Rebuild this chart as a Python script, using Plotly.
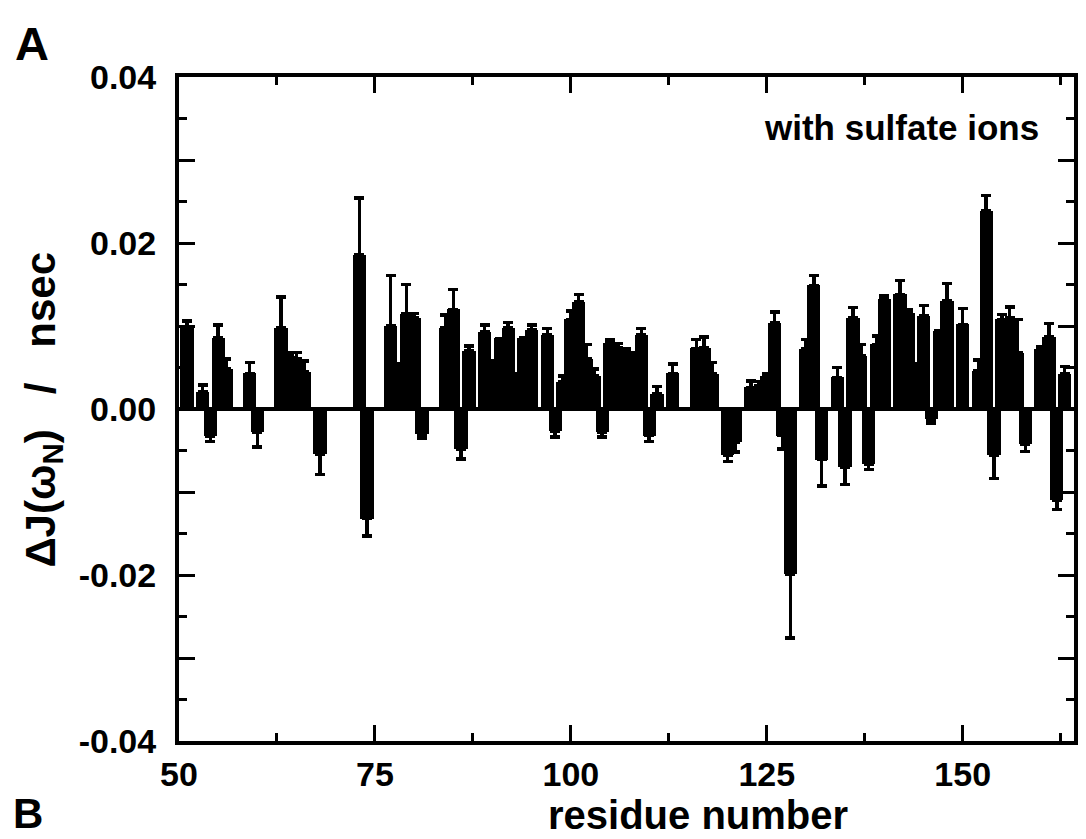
import plotly.graph_objects as go

# Residues with a measurable change, the change itself and its uncertainty (nsec)
residues = [51, 53, 54, 55, 56, 59, 60, 63, 64, 65, 66, 68, 73, 74, 77, 78, 79, 80, 81,
            84, 85, 86, 87, 89, 90, 91, 92, 93, 94, 95, 97, 98, 99, 100, 101, 102, 103,
            104, 105, 106, 107, 108, 109, 110, 111, 113, 116, 117, 118, 120, 121, 123,
            124, 125, 126, 127, 128, 130, 131, 132, 134, 135, 136, 137, 138, 139, 140,
            142, 143, 144, 145, 146, 147, 148, 150, 152, 153, 154, 155, 156, 157, 158,
            160, 161, 162, 163]
delta_j = [0.0097, 0.0021, -0.0033, 0.0086, 0.0048, 0.0043, -0.0028, 0.0098, 0.0064,
           0.0060, 0.0045, -0.0054, 0.0186, -0.0132, 0.0100, 0.0054, 0.0115, 0.0110,
           -0.0030, 0.0098, 0.0120, -0.0048, 0.0070, 0.0093, 0.0058, 0.0085, 0.0098,
           0.0042, 0.0086, 0.0095, 0.0089, -0.0027, 0.0033, 0.0108, 0.0129, 0.0060,
           0.0040, -0.0028, 0.0080, 0.0074, 0.0070, 0.0068, 0.0089, -0.0032, 0.0018,
           0.0043, 0.0073, 0.0074, 0.0042, -0.0056, -0.0040, 0.0026, 0.0028, 0.0040,
           0.0104, -0.0032, -0.0199, 0.0072, 0.0149, -0.0061, 0.0038, -0.0070, 0.0110,
           0.0064, -0.0066, 0.0078, 0.0133, 0.0138, 0.0116, 0.0055, 0.0112, -0.0012,
           0.0094, 0.0130, 0.0102, 0.0046, 0.0239, -0.0056, 0.0108, 0.0110, 0.0068,
           -0.0042, 0.0072, 0.0087, -0.0110, 0.0042]
delta_j_err = [0.0009, 0.0008, 0.0006, 0.0015, 0.0012, 0.0013, 0.0018, 0.0037, 0.0004,
               0.0008, 0.0013, 0.0025, 0.0068, 0.0021, 0.0061, 0.0, 0.0035, 0.0005,
               0.0005, 0.0015, 0.0024, 0.0012, 0.0006, 0.0008, 0.0, 0.0, 0.0006,
               0.0, 0.0, 0.0006, 0.0008, 0.0007, 0.0007, 0.0010, 0.0009, 0.0018,
               0.0008, 0.0006, 0.0003, 0.0005, 0.0002, 0.0, 0.0008, 0.0007, 0.0009,
               0.0011, 0.0011, 0.0013, 0.0014, 0.0007, 0.0012, 0.0008, 0.0005, 0.0003,
               0.0013, 0.0016, 0.0077, 0.0012, 0.0012, 0.0032, 0.0012, 0.0021, 0.0012,
               0.0014, 0.0007, 0.0010, 0.0004, 0.0017, 0.0004, 0.0, 0.0013, 0.0005,
               0.0, 0.0021, 0.0019, 0.0013, 0.0018, 0.0028, 0.0006, 0.0013, 0.0040,
               0.0009, 0.0003, 0.0016, 0.0011, 0.0009]

x_ticks = [50, 75, 100, 125, 150]
x_minor_ticks = [62.5, 87.5, 112.5, 137.5, 162.5]
y_ticks = [-0.04, -0.03, -0.02, -0.01, 0.0, 0.01, 0.02, 0.03, 0.04]
y_tick_text = ["-0.04", "", "-0.02", "", "0.00", "", "0.02", "", "0.04"]
y_minor_ticks = [-0.035, -0.025, -0.015, -0.005, 0.005, 0.015, 0.025, 0.035]

# Error bars point away from zero
err_up = [e if v >= 0 else 0.0 for v, e in zip(delta_j, delta_j_err)]
err_down = [e if v < 0 else 0.0 for v, e in zip(delta_j, delta_j_err)]

FONT = "Liberation Sans, Arial, sans-serif"
W, H = 1086, 839
L, R, T, B = 179, 1078, 77, 741
NB = "\u00a0"


def px(x, y):
    """Pixel position on the page -> paper coordinates."""
    return (x - L) / (R - L), (B - y) / (B - T)


fig = go.Figure()
fig.add_trace(go.Bar(
    x=residues, y=delta_j, width=1.7,
    marker=dict(color="black", line=dict(width=0)),
    error_y=dict(type="data", symmetric=False, array=err_up, arrayminus=err_down,
                 color="black", thickness=3.5, width=5),
    showlegend=False,
))

axis_common = dict(
    showline=True, linewidth=4, linecolor="black", mirror="ticks",
    ticks="inside", tickwidth=3, tickcolor="black", showgrid=False,
    tickfont=dict(family=FONT, size=34, color="black", weight="bold"),
)

fig.update_xaxes(
    range=[50, 164.2], tickvals=x_ticks, ticklen=16, zeroline=False,
    minor=dict(tickvals=x_minor_ticks, ticks="inside", ticklen=8, tickwidth=3,
               tickcolor="black", showgrid=False),
    ticklabelstandoff=0,
    **axis_common,
)
fig.update_yaxes(
    range=[-0.04, 0.04], tickvals=y_ticks, ticktext=y_tick_text, ticklen=16,
    zeroline=True, zerolinewidth=4, zerolinecolor="black",
    minor=dict(tickvals=y_minor_ticks, ticks="inside", ticklen=8, tickwidth=3,
               tickcolor="black", showgrid=False),
    ticklabelstandoff=12,
    **axis_common,
)


def label(text, x, y, size, angle=0, yanchor="middle"):
    ax, ay = px(x, y)
    return dict(text=text, x=ax, y=ay, xref="paper", yref="paper",
                xanchor="center", yanchor=yanchor, textangle=angle, borderpad=0,
                showarrow=False, font=dict(family=FONT, size=size, color="black"))


gap = NB * 3
annotations = [
    label("<b>residue number</b>", 700, 815, 40),
    label(f"<b>\u0394J(\u03c9<sub>N</sub>){gap}/{gap}nsec</b>", 42, 410, 42, angle=-90),
    label("<b>with sulfate ions</b>", 905, 128, 35),
    label("<b>A</b>", 31, 43, 47),
    label("<b>B</b>", 27, 838, 42, yanchor="bottom"),
]

fig.update_layout(
    width=W, height=H,
    margin=dict(l=L, r=W - R, t=T, b=H - B, pad=0),
    paper_bgcolor="white", plot_bgcolor="white",
    bargap=0, barmode="overlay",
    annotations=annotations,
    font=dict(family=FONT, color="black"),
)

fig.write_html("out.html")
